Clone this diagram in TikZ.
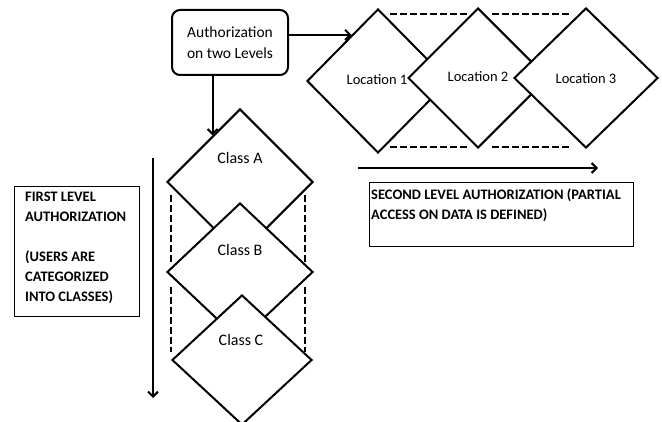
\documentclass[tikz,border=0pt]{standalone}
\usepackage{fontspec}
\setmainfont{Carlito}
\usetikzlibrary{shapes.geometric,arrows.meta,calc}
\tikzset{
  line/.style={line width=2pt},
  arr/.style={line, -{Straight Barb[length=5pt,width=10pt,line width=2pt]}},
  dia/.style={shape=diamond, draw, line width=2pt, fill=white, inner sep=0pt},
  dash line/.style={line width=2pt, dash pattern=on 7pt off 3pt},
  lbl/.style={font=\fontsize{14.5}{16}\selectfont, inner sep=0pt},
  classlbl/.style={font=\fontsize{16}{18}\selectfont, inner sep=0pt},
  boxtext/.style={font=\bfseries\fontsize{14.5}{20}\selectfont, align=left, inner sep=0pt},
  panel/.style={draw, line width=1pt},
}
\begin{document}
\begin{tikzpicture}[x=1pt,y=-1pt]
\useasboundingbox (0,0) rectangle (662,422);
\clip (0,0) rectangle (662,422);

% top box
\node[draw, line width=2pt, rounded corners=8pt, minimum width=116pt, minimum height=65pt,
      align=center, font=\fontsize{15.5}{21}\selectfont] (auth) at (230,42.5)
      {Authorization\\on two Levels};

% dashed guides between the location diamonds
\draw[dash line] (390,14) -- (470,14);
\draw[dash line] (492,14) -- (572,14);
\draw[dash line] (390,147) -- (470,147);
\draw[dash line, line width=1.2pt] (492,147) -- (572,147);

% location diamonds
\node[dia, minimum width=142pt, minimum height=144pt] (loc1) at (378,81) {};
\node[dia, minimum width=140pt, minimum height=140pt] (loc2) at (478,78) {};
\node[dia, minimum width=144pt, minimum height=140pt] (loc3) at (586,78) {};
\node[lbl] (t1) at (377,80) {Location 1};
\node[lbl] (t2) at (478,77) {Location 2};
\node[lbl] (t3) at (586,79) {Location 3};

% dashed guides beside the class diamonds
\draw[dash line] (171,195) -- (171,263);
\draw[dash line] (171,287) -- (171,352);
\draw[dash line] (305,195) -- (305,263);
\draw[dash line] (305,287) -- (305,352);

% class diamonds
\node[dia, minimum width=146pt, minimum height=146pt] (classA) at (240,182) {};
\node[dia, minimum width=146pt, minimum height=138pt] (classB) at (240,272) {};
\node[dia, minimum width=140pt, minimum height=130pt] (classC) at (242,360) {};
\node[classlbl] (ta) at (240,158) {Class A};
\node[classlbl] (tb) at (240,250) {Class B};
\node[classlbl] (tc) at (241,340) {Class C};

% arrows from the top box
\coordinate (hitL) at ($(loc1.west)!0.632!(loc1.north)$);
\coordinate (hitA) at ($(classA.west)!0.63!(classA.north)$);
\draw[arr] (hitL -| auth.east) -- (hitL);
\draw[arr] (hitA |- auth.south) -- (hitA);

% direction arrows
\coordinate (vtop) at (153,158);
\coordinate (vbot) at (153,398);
\draw[arr] (vtop) -- (vbot);
\coordinate (hleft) at (358,168);
\coordinate (hright) at (598,168);
\draw[arr] (hleft) -- (hright);

% explanation panels
\node[panel, minimum width=125pt, minimum height=130pt] (first) at (76.5,252) {};
\node[boxtext, anchor=north west] (firsttext) at (25,192)
  {FIRST LEVEL\\AUTHORIZATION\\[20pt](USERS ARE\\CATEGORIZED\\INTO CLASSES)};
\node[panel, minimum width=264pt, minimum height=64pt] (second) at (501,215) {};
\node[boxtext, anchor=north west] (secondtext) at (371,189)
  {SECOND LEVEL AUTHORIZATION (PARTIAL\\ACCESS ON DATA IS DEFINED)};
\end{tikzpicture}
\end{document}
